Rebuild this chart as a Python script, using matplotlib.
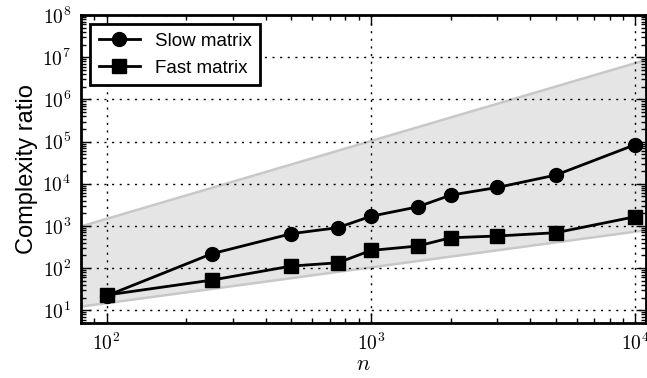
import matplotlib
matplotlib.use('Agg')
import matplotlib.pyplot as plt
from matplotlib.ticker import FuncFormatter, LogLocator, NullFormatter
import numpy as np

# 数据
n_values = [100, 250, 500, 750, 1000, 1500, 2000, 3000, 5000, 10000]
slow_ratio = [22, 219, 656, 912, 1700, 2830, 5380, 8170, 16100, 85000]
fast_ratio = [23, 52, 112, 134, 263, 334, 525, 578, 692, 1660]

# 灰色区域的边界（左右两端的值）
band_n = [80, 11000]
band_low = [12.6, 820]
band_high = [1010, 9.0e6]

plt.rcParams['font.family'] = ['Liberation Sans', 'DejaVu Sans']
plt.rcParams['mathtext.fontset'] = 'cm'

fig = plt.figure(figsize=(6.47, 3.78), dpi=100)
ax = fig.add_axes([0.125, 0.1455, 0.874, 0.8145])

ax.fill_between(band_n, band_low, band_high, facecolor='#e5e5e5',
                edgecolor='#c8c8c8', linewidth=1.8, zorder=1)

ax.plot(n_values, slow_ratio, 'k-o', lw=2, markersize=10, label='Slow matrix', zorder=3)
ax.plot(n_values, fast_ratio, 'k-s', lw=2, markersize=10, label='Fast matrix', zorder=3)

ax.set_xscale('log')
ax.set_yscale('log')
ax.set_xlim(80, 11000)
ax.set_ylim(5, 1e8)

# 每个数量级一个主刻度，标签用 Computer Modern 字体
pow_fmt = FuncFormatter(lambda v, pos: r'$10^{%d}$' % int(round(np.log10(v))))
for axis in (ax.xaxis, ax.yaxis):
    axis.set_major_locator(LogLocator(base=10, numticks=20))
    axis.set_minor_locator(LogLocator(base=10, subs=np.arange(2, 10), numticks=20))
    axis.set_major_formatter(pow_fmt)
    axis.set_minor_formatter(NullFormatter())

ax.grid(True, which='major', color='k', linestyle=(0, (1.5, 4)), linewidth=1)
ax.set_axisbelow(False)
ax.tick_params(which='both', direction='in', top=True, right=True, labelsize=14, width=1)
ax.tick_params(which='major', length=7, pad=7)
ax.tick_params(which='minor', length=3.5)
for sp in ax.spines.values():
    sp.set_linewidth(2)

ax.set_xlabel('$n$', fontsize=16, labelpad=0)
ax.set_ylabel('Complexity ratio', fontsize=17, labelpad=3)

leg = ax.legend(loc='upper left', numpoints=1, fancybox=False, fontsize=13.5,
                borderaxespad=0.5, handlelength=2.2, labelspacing=0.5, borderpad=0.45)
leg.get_frame().set_edgecolor('k')
leg.get_frame().set_linewidth(2)
leg.get_frame().set_alpha(1)

fig.savefig('out.png', dpi=100)
